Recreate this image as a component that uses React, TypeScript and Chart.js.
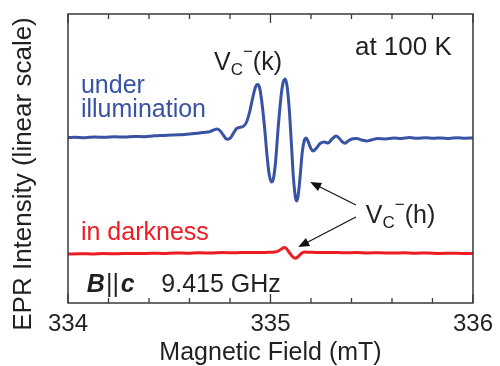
import React, { useEffect, useRef } from "react";
import { Chart, registerables } from "chart.js";

Chart.register(...registerables);

// Magnetic field (mT) and EPR intensity (arb. units) — under illumination
const fieldBlue = [
  334.0, 334.034, 334.083, 334.132, 334.181, 334.23, 334.279, 334.328, 334.377, 334.426,
  334.475, 334.525, 334.574, 334.623, 334.672, 334.701, 334.721, 334.735, 334.75, 334.765,
  334.779, 334.789, 334.804, 334.819, 334.833, 334.853, 334.868, 334.882, 334.897, 334.912,
  334.926, 334.936, 334.946, 334.956, 334.971, 334.985, 334.995, 335.005, 335.015, 335.025,
  335.039, 335.054, 335.064, 335.074, 335.083, 335.093, 335.103, 335.113, 335.123, 335.13,
  335.137, 335.147, 335.157, 335.167, 335.176, 335.186, 335.201, 335.211, 335.225, 335.245,
  335.265, 335.284, 335.304, 335.324, 335.338, 335.353, 335.368, 335.387, 335.407, 335.426,
  335.451, 335.475, 335.5, 335.529, 335.569, 335.608, 335.647, 335.686, 335.725, 335.765,
  335.804, 335.843, 335.882, 335.922, 335.961, 336.0,
];
const intensityBlue = [
  1.654, 1.657, 1.653, 1.66, 1.657, 1.662, 1.659, 1.665, 1.663, 1.672,
  1.676, 1.681, 1.686, 1.694, 1.706, 1.714, 1.732, 1.74, 1.725, 1.685,
  1.645, 1.638, 1.655, 1.705, 1.745, 1.758, 1.77, 1.81, 1.91, 2.05,
  2.16, 2.185, 2.155, 2.03, 1.75, 1.43, 1.27, 1.21, 1.25, 1.41,
  1.78, 2.1, 2.215, 2.24, 2.15, 1.93, 1.6, 1.26, 1.06, 1.02,
  1.08, 1.28, 1.51, 1.625, 1.65, 1.615, 1.54, 1.52, 1.545, 1.595,
  1.61, 1.6, 1.64, 1.67, 1.65, 1.615, 1.598, 1.625, 1.643, 1.645,
  1.63, 1.62, 1.632, 1.644, 1.641, 1.65, 1.646, 1.654, 1.648, 1.652,
  1.647, 1.651, 1.646, 1.652, 1.648, 1.65,
];

// In darkness
const fieldRed = [
  334.0, 334.059, 334.118, 334.176, 334.235, 334.294, 334.353, 334.412, 334.471, 334.529,
  334.588, 334.647, 334.706, 334.765, 334.824, 334.882, 334.941, 334.99, 335.02, 335.039,
  335.054, 335.069, 335.078, 335.093, 335.108, 335.123, 335.137, 335.152, 335.167, 335.196,
  335.245, 335.304, 335.363, 335.422, 335.48, 335.539, 335.598, 335.657, 335.716, 335.775,
  335.833, 335.892, 335.951, 336.0,
];
const intensityRed = [
  0.49, 0.493, 0.49, 0.494, 0.492, 0.496, 0.494, 0.498, 0.496, 0.5,
  0.498, 0.502, 0.5, 0.504, 0.502, 0.506, 0.504, 0.507, 0.51, 0.52,
  0.54, 0.554, 0.545, 0.505, 0.465, 0.447, 0.465, 0.495, 0.51, 0.507,
  0.504, 0.506, 0.502, 0.504, 0.5, 0.503, 0.499, 0.502, 0.498, 0.5,
  0.496, 0.498, 0.495, 0.496,
];

const xTickLabels = [334, 335, 336];
const minorStep = 0.2;

const FONT = '"Liberation Sans", Arial, Helvetica, sans-serif';
const TEXT = "#231f20";
const BLUE = "#3953a4";
const RED = "#ed1c24";

export default function App() {
  const ref = useRef<HTMLCanvasElement>(null);

  useEffect(() => {
    if (!ref.current) return;

    const decor = {
      id: "decor",
      afterDraw(chart: any) {
        const { ctx, chartArea } = chart;
        const xs = chart.scales.x;
        const ys = chart.scales.y;
        const px = (v: number) => xs.getPixelForValue(v);
        const py = (v: number) => ys.getPixelForValue(v);
        ctx.save();

        // frame
        ctx.strokeStyle = "#3a3a3a";
        ctx.lineWidth = 1.5;
        ctx.strokeRect(chartArea.left, chartArea.top, chartArea.right - chartArea.left, chartArea.bottom - chartArea.top);

        // inward ticks on top and bottom
        const n = Math.round((xs.max - xs.min) / minorStep);
        ctx.lineWidth = 1.3;
        for (let i = 0; i <= n; i++) {
          const v = xs.min + i * minorStep;
          const x = px(v);
          const len = i % 5 === 0 ? 9 : 5;
          ctx.beginPath();
          ctx.moveTo(x, chartArea.bottom);
          ctx.lineTo(x, chartArea.bottom - len);
          ctx.moveTo(x, chartArea.top);
          ctx.lineTo(x, chartArea.top + len);
          ctx.stroke();
        }

        // y axis title
        ctx.fillStyle = TEXT;
        ctx.font = `26px ${FONT}`;
        ctx.textAlign = "center";
        ctx.textBaseline = "middle";
        ctx.save();
        ctx.translate(24, 174);
        ctx.rotate(-Math.PI / 2);
        ctx.fillText("EPR Intensity (linear scale)", 0, 0);
        ctx.restore();

        ctx.textAlign = "left";
        ctx.textBaseline = "alphabetic";

        const drawVC = (x: number, y: number, suffix: string) => {
          ctx.fillStyle = TEXT;
          ctx.font = `25px ${FONT}`;
          ctx.fillText("V", x, y);
          let cx = x + ctx.measureText("V").width;
          ctx.font = `17px ${FONT}`;
          ctx.fillText("C", cx, y + 5);
          cx += ctx.measureText("C").width;
          ctx.fillText("\u2212", cx, y - 13);
          cx += ctx.measureText("\u2212").width;
          ctx.font = `25px ${FONT}`;
          ctx.fillText(suffix, cx, y);
        };

        drawVC(px(334.721), py(2.33), "(k)");
        drawVC(px(335.471), py(0.8), "(h)");

        ctx.fillStyle = TEXT;
        ctx.font = `26px ${FONT}`;
        ctx.fillText("at 100 K", px(335.417), py(2.48));

        ctx.font = `25px ${FONT}`;
        ctx.fillStyle = BLUE;
        ctx.fillText("under", px(334.064), py(2.1));
        ctx.fillText("illumination", px(334.064), py(1.86));

        ctx.fillStyle = RED;
        ctx.fillText("in darkness", px(334.064), py(0.63));

        // B || c   9.415 GHz
        ctx.fillStyle = TEXT;
        let bx = px(334.093);
        const by = py(0.11);
        ctx.font = `italic bold 25px ${FONT}`;
        ctx.fillText("B", bx, by);
        bx += ctx.measureText("B").width + 1;
        ctx.font = `25px ${FONT}`;
        ctx.fillText("||", bx, by);
        bx += ctx.measureText("||").width + 2;
        ctx.font = `italic bold 25px ${FONT}`;
        ctx.fillText("c", bx, by);
        ctx.font = `25px ${FONT}`;
        ctx.fillText("9.415 GHz", px(334.461), by);

        // arrows
        const arrow = (x1: number, y1: number, x2: number, y2: number) => {
          const ax = px(x1), ay = py(y1), bx2 = px(x2), by2 = py(y2);
          const ang = Math.atan2(by2 - ay, bx2 - ax);
          const hl = 11, hw = 4.5;
          ctx.strokeStyle = "#111";
          ctx.lineWidth = 1.2;
          ctx.beginPath();
          ctx.moveTo(ax, ay);
          ctx.lineTo(bx2 - Math.cos(ang) * hl * 0.8, by2 - Math.sin(ang) * hl * 0.8);
          ctx.stroke();
          ctx.fillStyle = "#111";
          ctx.beginPath();
          ctx.moveTo(bx2, by2);
          ctx.lineTo(bx2 - Math.cos(ang) * hl - Math.sin(ang) * hw, by2 - Math.sin(ang) * hl + Math.cos(ang) * hw);
          ctx.lineTo(bx2 - Math.cos(ang) * hl + Math.sin(ang) * hw, by2 - Math.sin(ang) * hl - Math.cos(ang) * hw);
          ctx.closePath();
          ctx.fill();
        };
        arrow(335.422, 0.98, 335.196, 1.21);
        arrow(335.422, 0.86, 335.137, 0.56);

        ctx.restore();
      },
    };

    const chart = new Chart(ref.current, {
      type: "line",
      data: {
        datasets: [
          {
            label: "under illumination",
            data: fieldBlue.map((x, i) => ({ x, y: intensityBlue[i] })),
            borderColor: BLUE,
            borderWidth: 3,
            pointRadius: 0,
            cubicInterpolationMode: "monotone",
            fill: false,
          },
          {
            label: "in darkness",
            data: fieldRed.map((x, i) => ({ x, y: intensityRed[i] })),
            borderColor: RED,
            borderWidth: 3,
            pointRadius: 0,
            cubicInterpolationMode: "monotone",
            fill: false,
          },
        ],
      },
      options: {
        animation: false,
        responsive: false,
        devicePixelRatio: 1,
        layout: { padding: { left: 0, right: 24, top: 14, bottom: 0 } },
        plugins: { legend: { display: false }, tooltip: { enabled: false } },
        scales: {
          x: {
            type: "linear",
            min: 334,
            max: 336,
            afterBuildTicks: (s: any) => {
              s.ticks = xTickLabels.map((v) => ({ value: v }));
            },
            afterFit: (s: any) => {
              s.height = 63;
            },
            grid: { display: false, drawTicks: false },
            border: { display: false },
            ticks: {
              font: { family: FONT, size: 24 },
              color: TEXT,
              padding: 7,
              maxRotation: 0,
              autoSkip: false,
            },
            title: {
              display: true,
              text: "Magnetic Field (mT)",
              font: { family: FONT, size: 25, lineHeight: 1 },
              color: TEXT,
              padding: { top: 0, bottom: 0 },
            },
          },
          y: {
            type: "linear",
            min: 0,
            max: 2.89,
            afterFit: (s: any) => {
              s.width = 68;
            },
            grid: { display: false, drawTicks: false },
            border: { display: false },
            ticks: { display: false },
          },
        },
      },
      plugins: [decor],
    });

    return () => chart.destroy();
  }, []);

  return (
    <div style={{ position: "absolute", left: 0, top: 0, width: 500, height: 366, background: "#fff" }}>
      <canvas ref={ref} width={500} height={366} />
    </div>
  );
}
